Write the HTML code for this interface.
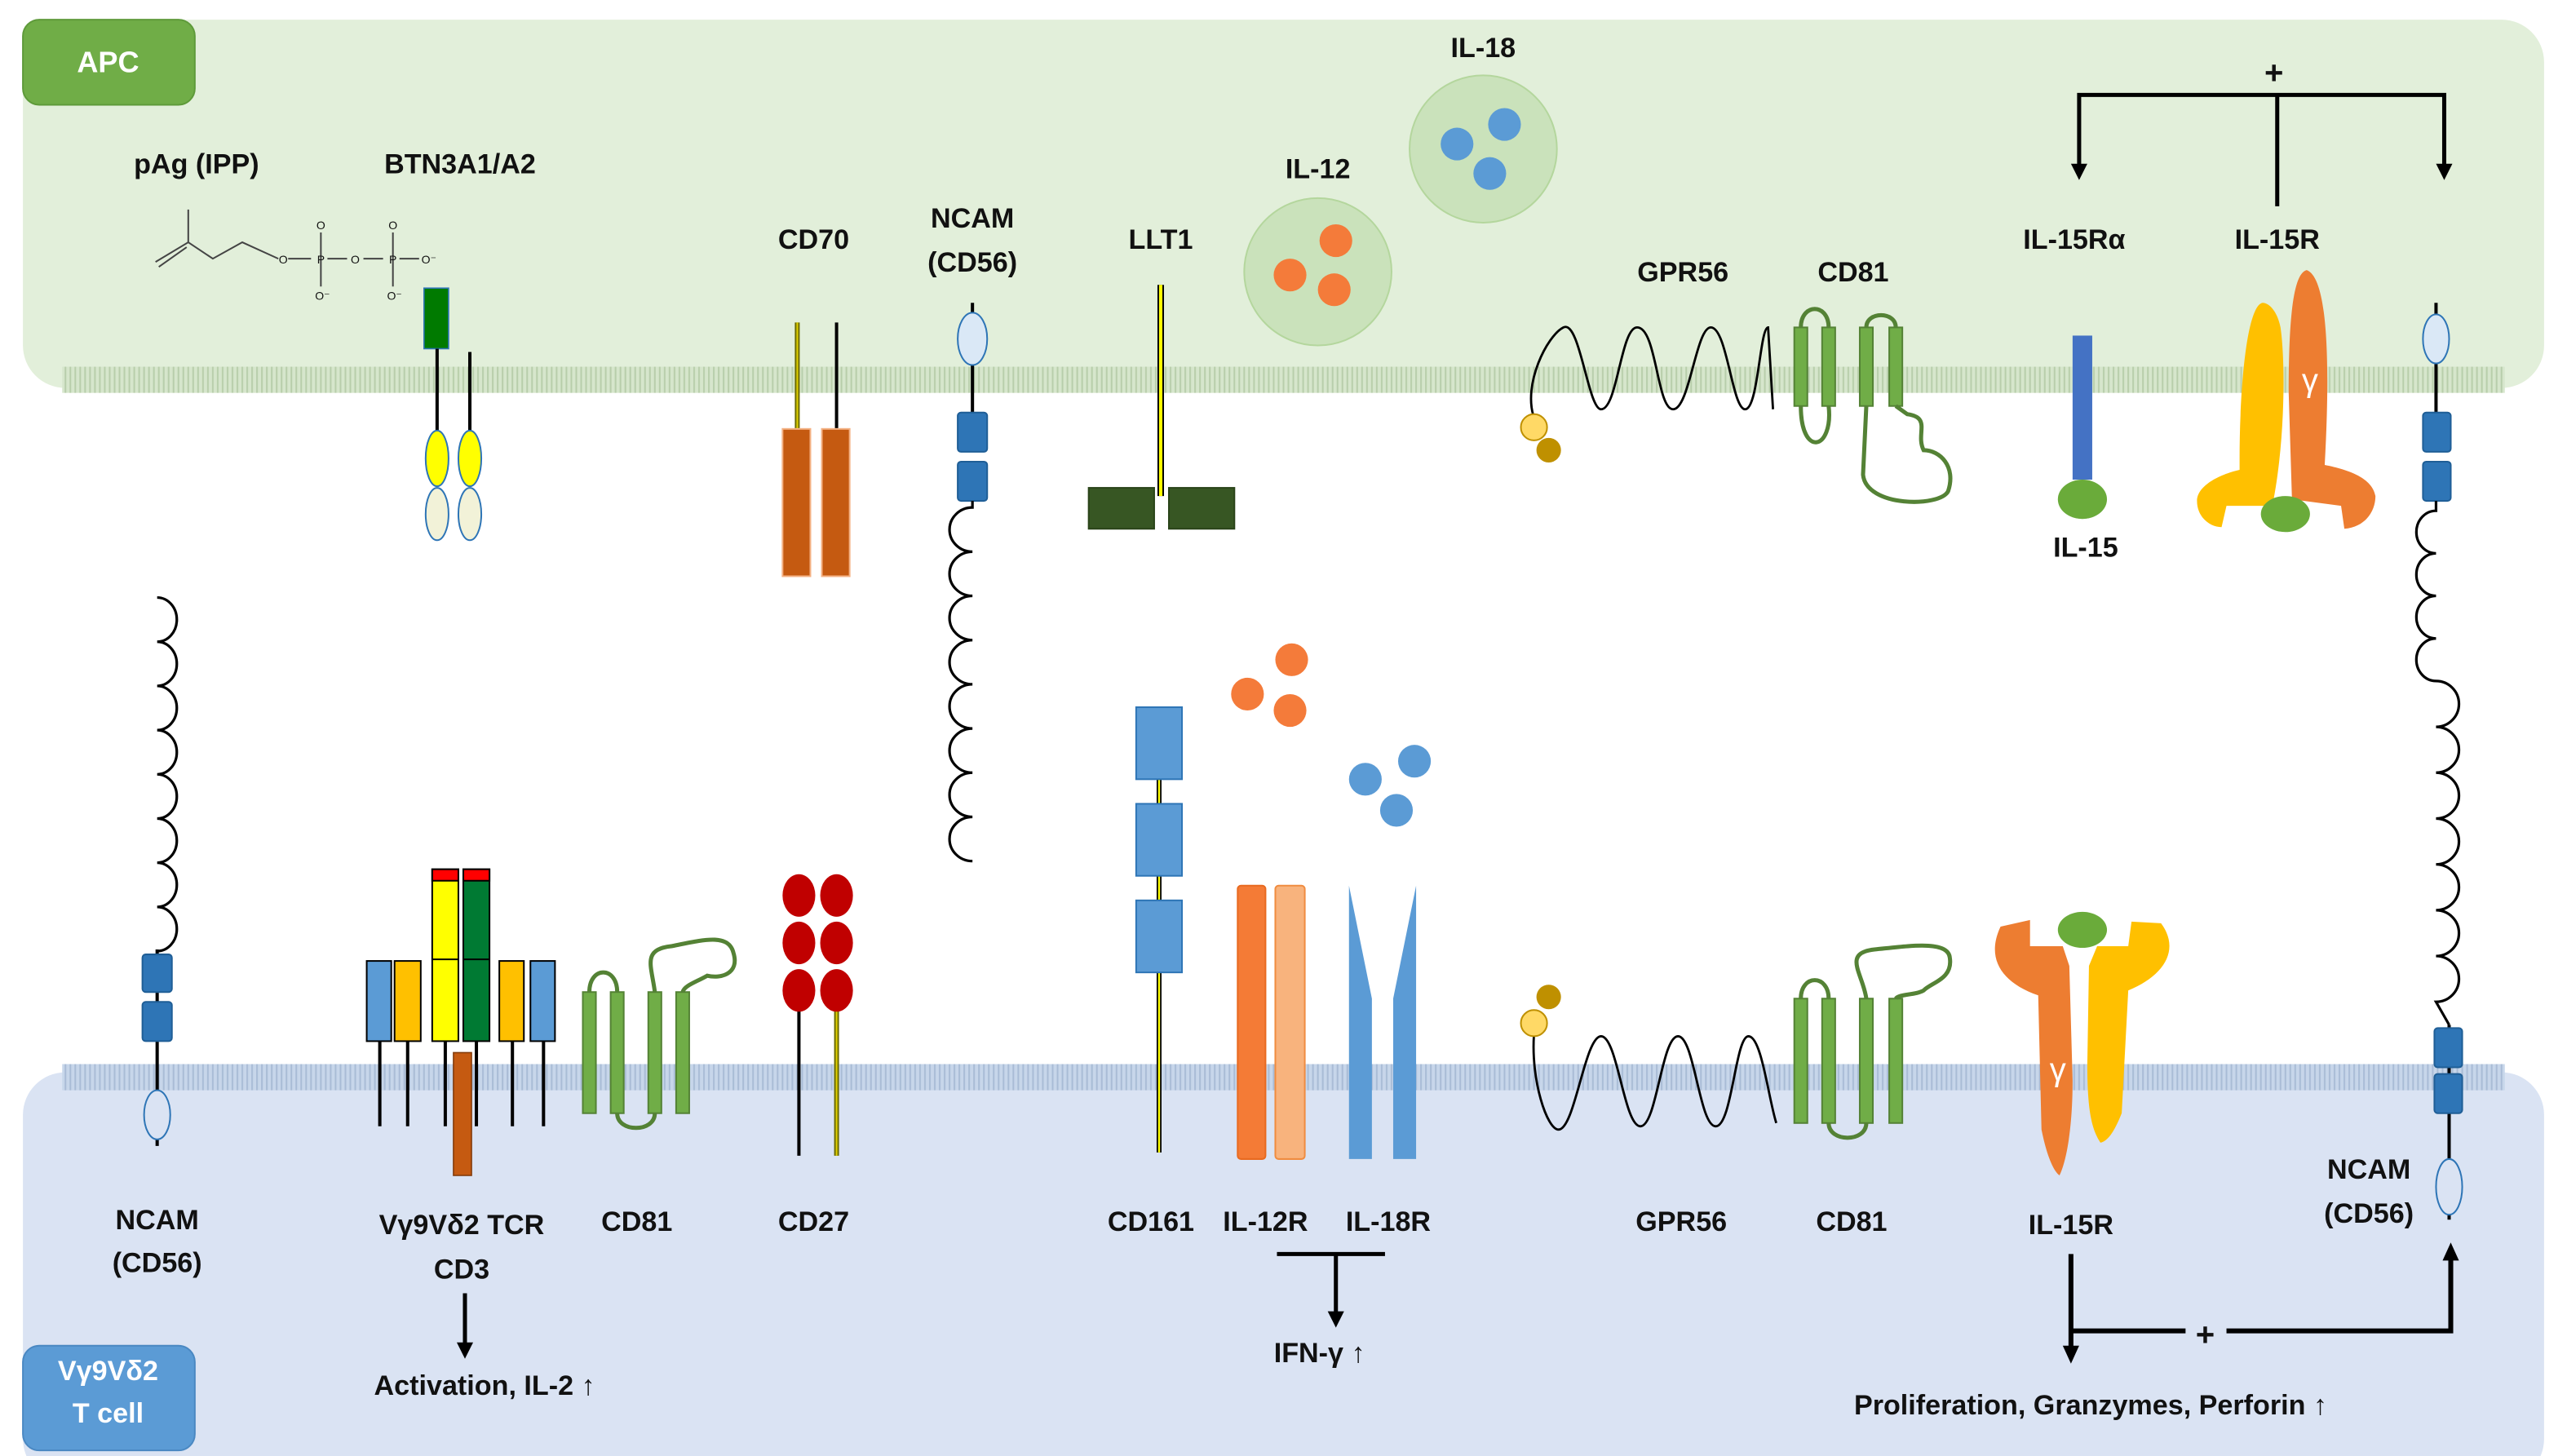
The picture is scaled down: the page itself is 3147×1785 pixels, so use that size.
<!DOCTYPE html>
<html><head><meta charset="utf-8"><style>
html,body{margin:0;padding:0;background:#fff}
svg{display:block}
text{font-family:"Liberation Sans",sans-serif;font-weight:bold;fill:#111}
</style></head><body>
<svg width="3147" height="1785" viewBox="0 0 1568 889.4" preserveAspectRatio="none" xmlns="http://www.w3.org/2000/svg">
<defs>
<pattern id="pg" width="3" height="16" patternUnits="userSpaceOnUse"><rect width="3" height="16" fill="#d6e6cc"/><line x1="1" y1="0" x2="1" y2="16" stroke="#b8ceab" stroke-width="1"/></pattern>
<pattern id="pb" width="3" height="16" patternUnits="userSpaceOnUse"><rect width="3" height="16" fill="#c7d6ea"/><line x1="1" y1="0" x2="1" y2="16" stroke="#a9bcd6" stroke-width="1"/></pattern>
<marker id="ar" markerWidth="8" markerHeight="8" refX="4" refY="6" orient="auto" markerUnits="userSpaceOnUse" viewBox="0 0 8 8"><path d="M0,0 L8,0 L4,8 Z" fill="#000"/></marker>
</defs>
<!-- regions -->
<rect x="14" y="12" width="1540" height="225" rx="26" fill="#e2efda"/>
<rect x="14" y="655" width="1540" height="250" rx="26" fill="#dae3f3"/>
<rect x="38" y="224" width="1492" height="16" fill="url(#pg)"/>
<rect x="38" y="650" width="1492" height="16" fill="url(#pb)"/>
<rect x="14" y="12" width="105" height="52" rx="10" fill="#70ad47" stroke="#5e9a3a"/>
<text x="66" y="44" font-size="18" text-anchor="middle" style="fill:#fff">APC</text>
<rect x="14" y="822" width="105" height="64" rx="10" fill="#5b9bd5" stroke="#4a88c2"/>
<text x="66" y="843" font-size="17" text-anchor="middle" style="fill:#fff">Vγ9Vδ2</text>
<text x="66" y="869" font-size="17" text-anchor="middle" style="fill:#fff">T cell</text>

<!-- labels top -->
<g font-size="17" text-anchor="middle">
<text x="120" y="106">pAg (IPP)</text>
<text x="281" y="106">BTN3A1/A2</text>
<text x="497" y="152">CD70</text>
<text x="594" y="139">NCAM</text>
<text x="594" y="166">(CD56)</text>
<text x="709" y="152">LLT1</text>
<text x="805" y="109">IL-12</text>
<text x="906" y="35">IL-18</text>
<text x="1028" y="172">GPR56</text>
<text x="1132" y="172">CD81</text>
<text x="1267" y="152">IL-15Rα</text>
<text x="1391" y="152">IL-15R</text>
<text x="1389" y="51" font-size="20">+</text>
<text x="1274" y="340">IL-15</text>
<!-- labels bottom -->
<text x="96" y="751">NCAM</text>
<text x="96" y="777">(CD56)</text>
<text x="282" y="754">Vγ9Vδ2 TCR</text>
<text x="282" y="781">CD3</text>
<text x="389" y="752">CD81</text>
<text x="497" y="752">CD27</text>
<text x="703" y="752">CD161</text>
<text x="773" y="752">IL-12R</text>
<text x="848" y="752">IL-18R</text>
<text x="1027" y="752">GPR56</text>
<text x="1131" y="752">CD81</text>
<text x="1265" y="754">IL-15R</text>
<text x="1447" y="720">NCAM</text>
<text x="1447" y="747">(CD56)</text>
<text x="296" y="852">Activation, IL-2 ↑</text>
<text x="806" y="832">IFN-γ ↑</text>
<text x="1277" y="864">Proliferation, Granzymes, Perforin ↑</text>
<text x="1347" y="822" font-size="20">+</text>
</g>

<!-- IPP molecule -->
<g stroke="#444" stroke-width="1" fill="none">
<path d="M95 160 L115 148 L130 158 L148 148 L170 158"/>
<path d="M97 163 L114 151"/>
<line x1="115" y1="148" x2="115" y2="128"/>
<line x1="176" y1="158" x2="190" y2="158"/><line x1="200" y1="158" x2="212" y2="158"/>
<line x1="222" y1="158" x2="234" y2="158"/><line x1="244" y1="158" x2="256" y2="158"/>
<line x1="196" y1="142" x2="196" y2="175"/><line x1="240" y1="142" x2="240" y2="175"/>
</g>
<g font-size="7" font-weight="normal" fill="#444" text-anchor="middle" style="font-weight:normal">
<text x="173" y="161" style="font-weight:normal">O</text><text x="196" y="161" style="font-weight:normal">P</text><text x="217" y="161" style="font-weight:normal">O</text><text x="240" y="161" style="font-weight:normal">P</text><text x="262" y="161" style="font-weight:normal">O⁻</text>
<text x="196" y="140" style="font-weight:normal">O</text><text x="240" y="140" style="font-weight:normal">O</text><text x="197" y="183" style="font-weight:normal">O⁻</text><text x="241" y="183" style="font-weight:normal">O⁻</text>
</g>

<!-- BTN3A1/A2 -->
<rect x="259" y="176" width="15" height="37" fill="#007a00" stroke="#2e75b6" stroke-width="0.8"/>
<line x1="267" y1="213" x2="267" y2="265" stroke="#000" stroke-width="2"/>
<line x1="287" y1="215" x2="287" y2="265" stroke="#000" stroke-width="2"/>
<g stroke="#2e75b6" stroke-width="1">
<ellipse cx="267" cy="280" rx="7" ry="17" fill="#ffff00"/><ellipse cx="287" cy="280" rx="7" ry="17" fill="#ffff00"/>
<ellipse cx="267" cy="314" rx="7" ry="16" fill="#f2f2d8"/><ellipse cx="287" cy="314" rx="7" ry="16" fill="#f2f2d8"/>
</g>

<!-- CD70 -->
<line x1="487" y1="197" x2="487" y2="263" stroke="#6b6b00" stroke-width="3"/>
<line x1="487" y1="197" x2="487" y2="263" stroke="#e0d000" stroke-width="1"/>
<line x1="511" y1="197" x2="511" y2="263" stroke="#000" stroke-width="2"/>
<rect x="478" y="262" width="17" height="90" fill="#c55a11" stroke="#f4b183"/>
<rect x="502" y="262" width="17" height="90" fill="#c55a11" stroke="#f4b183"/>

<!-- NCAM top -->
<line x1="594" y1="185" x2="594" y2="252" stroke="#000" stroke-width="2"/>
<ellipse cx="594" cy="207" rx="9" ry="16" fill="#dae8f6" stroke="#2e75b6"/>
<rect x="585" y="252" width="18" height="24" rx="2" fill="#2e75b6" stroke="#1f5e96"/>
<rect x="585" y="282" width="18" height="24" rx="2" fill="#2e75b6" stroke="#1f5e96"/>
<path d="M594 306 L594 310 a14 13.5 0 1 0 0 27 a14 13.5 0 1 0 0 27 a14 13.5 0 1 0 0 27 a14 13.5 0 1 0 0 27 a14 13.5 0 1 0 0 27 a14 13.5 0 1 0 0 27 a14 13.5 0 1 0 0 27 a14 13.5 0 1 0 0 27" fill="none" stroke="#000" stroke-width="1.6"/>

<!-- LLT1 -->
<line x1="709" y1="174" x2="709" y2="303" stroke="#000" stroke-width="4"/>
<line x1="709" y1="174" x2="709" y2="303" stroke="#ffff00" stroke-width="2"/>
<rect x="665" y="298" width="40" height="25" fill="#375623" stroke="#2a4419"/>
<rect x="714" y="298" width="40" height="25" fill="#375623" stroke="#2a4419"/>

<!-- IL-12 / IL-18 vesicles -->
<circle cx="805" cy="166" r="45" fill="#c5e0b4" stroke="#a9d18e" opacity="0.8"/>
<g fill="#f47b3a"><circle cx="788" cy="168" r="10"/><circle cx="816" cy="147" r="10"/><circle cx="815" cy="177" r="10"/></g>
<circle cx="906" cy="91" r="45" fill="#c5e0b4" stroke="#a9d18e" opacity="0.8"/>
<g fill="#5b9bd5"><circle cx="890" cy="88" r="10"/><circle cx="919" cy="76" r="10"/><circle cx="910" cy="106" r="10"/></g>

<!-- GPR56 top -->
<path d="M937 255 C930 235 945 205 955 200 C965 195 970 250 978 250 C988 250 990 200 1000 200 C1012 200 1012 250 1022 250 C1032 250 1036 200 1045 200 C1055 200 1058 250 1066 250 C1074 250 1075 200 1080 200 L1083 250" fill="none" stroke="#000" stroke-width="1.4"/>
<circle cx="937" cy="261" r="8" fill="#ffd966" stroke="#bf9000"/>
<circle cx="946" cy="275" r="7.5" fill="#bf9000"/>

<!-- CD81 top -->
<g fill="#70ad47" stroke="#548235" stroke-width="1">
<rect x="1096" y="200" width="8" height="48"/><rect x="1113" y="200" width="8" height="48"/>
<rect x="1136" y="200" width="8" height="48"/><rect x="1154" y="200" width="8" height="48"/>
</g>
<path d="M1100 200 C1100 185 1117 185 1117 200 M1100 248 C1100 280 1120 275 1117 248 M1140 200 C1140 190 1158 190 1158 200 M1140 248 L1138 290 C1140 310 1185 310 1190 300 C1195 285 1185 275 1175 275 C1170 265 1180 255 1165 253 L1158 248" fill="none" stroke="#548235" stroke-width="2.5"/>

<!-- IL-15Ra -->
<rect x="1266" y="205" width="12" height="88" fill="#4472c4"/>
<ellipse cx="1272" cy="305" rx="15" ry="12" fill="#6aab3a"/>

<!-- IL-15R top -->
<path d="M1382 185 C1372 187 1368 240 1368 280 L1368 287 C1355 290 1342 297 1342 306 C1342 316 1350 322 1357 322 L1360 309 L1388 309 C1396 270 1396 220 1393 200 C1391 190 1386 185 1382 185 Z" fill="#ffc000"/>
<path d="M1409 165 C1400 167 1398 200 1398 240 L1400 305 L1430 309 L1432 323 C1445 322 1451 312 1451 303 C1449 292 1435 287 1420 284 C1423 230 1423 170 1409 165 Z" fill="#ed7d31"/>
<ellipse cx="1396" cy="314" rx="15" ry="11" fill="#6aab3a"/>
<text x="1411" y="239" font-size="20" style="fill:#fff;font-weight:normal" text-anchor="middle">γ</text>

<!-- top arrows -->
<g stroke="#000" stroke-width="2.5" fill="none">
<path d="M1270 104 L1270 58 L1493 58 L1493 104" />
<line x1="1391" y1="58" x2="1391" y2="126"/>
</g>
<path d="M1265 100 L1275 100 L1270 110 Z M1488 100 L1498 100 L1493 110 Z" fill="#000"/>

<!-- right NCAM -->
<line x1="1488" y1="185" x2="1488" y2="252" stroke="#000" stroke-width="2"/>
<ellipse cx="1488" cy="207" rx="8" ry="15" fill="#dae8f6" stroke="#2e75b6"/>
<rect x="1480" y="252" width="17" height="24" rx="2" fill="#2e75b6" stroke="#1f5e96"/>
<rect x="1480" y="282" width="17" height="24" rx="2" fill="#2e75b6" stroke="#1f5e96"/>
<path d="M1488 306 L1488 312 a12 13 0 1 0 0 26 a12 13 0 1 0 0 26 a12 13 0 1 0 0 26 a12 13 0 1 0 0 26 M1488 416 a14 14 0 1 1 0 28 a14 14 0 1 1 0 28 a14 14 0 1 1 0 28 a14 14 0 1 1 0 28 a14 14 0 1 1 0 28 a14 14 0 1 1 0 28 a14 14 0 1 1 0 28 L1496 626" fill="none" stroke="#000" stroke-width="1.6"/>
<line x1="1496" y1="626" x2="1496" y2="745" stroke="#000" stroke-width="2"/>
<rect x="1487" y="628" width="17" height="24" rx="2" fill="#2e75b6" stroke="#1f5e96"/>
<rect x="1487" y="656" width="17" height="24" rx="2" fill="#2e75b6" stroke="#1f5e96"/>
<ellipse cx="1496" cy="725" rx="8" ry="17" fill="#dae3f3" stroke="#2e75b6"/>

<!-- left NCAM bottom -->
<path d="M96 365 a12 13.5 0 1 1 0 27 a12 13.5 0 1 1 0 27 a12 13.5 0 1 1 0 27 a12 13.5 0 1 1 0 27 a12 13.5 0 1 1 0 27 a12 13.5 0 1 1 0 27 a12 13.5 0 1 1 0 27 a12 13.5 0 1 1 0 27" fill="none" stroke="#000" stroke-width="1.6"/>
<line x1="96" y1="580" x2="96" y2="700" stroke="#000" stroke-width="2"/>
<rect x="87" y="583" width="18" height="23" rx="2" fill="#2e75b6" stroke="#1f5e96"/>
<rect x="87" y="612" width="18" height="24" rx="2" fill="#2e75b6" stroke="#1f5e96"/>
<ellipse cx="96" cy="681" rx="8" ry="15" fill="#dae3f3" stroke="#2e75b6"/>

<!-- TCR/CD3 -->
<g stroke="#000" stroke-width="2">
<line x1="232" y1="636" x2="232" y2="688"/><line x1="249" y1="636" x2="249" y2="688"/>
<line x1="272" y1="636" x2="272" y2="688"/><line x1="291" y1="636" x2="291" y2="688"/>
<line x1="313" y1="636" x2="313" y2="688"/><line x1="332" y1="636" x2="332" y2="688"/>
</g>
<g stroke="#000" stroke-width="1">
<rect x="224" y="587" width="15" height="49" fill="#5b9bd5"/>
<rect x="241" y="587" width="16" height="49" fill="#ffc000"/>
<rect x="264" y="531" width="16" height="105" fill="#ffff00"/>
<rect x="264" y="531" width="16" height="7" fill="#ff0000"/>
<line x1="264" y1="586" x2="280" y2="586"/>
<rect x="283" y="531" width="16" height="105" fill="#007a33"/>
<rect x="283" y="531" width="16" height="7" fill="#ff0000"/>
<line x1="283" y1="586" x2="299" y2="586"/>
<rect x="305" y="587" width="15" height="49" fill="#ffc000"/>
<rect x="324" y="587" width="15" height="49" fill="#5b9bd5"/>
</g>
<rect x="277" y="643" width="11" height="75" fill="#c55a11" stroke="#843c0c" stroke-width="0.8"/>
<line x1="284" y1="790" x2="284" y2="822" stroke="#000" stroke-width="2.5"/>
<path d="M279 820 L289 820 L284 830 Z" fill="#000"/>

<!-- CD81 bottom left -->
<g fill="#70ad47" stroke="#548235"><rect x="356" y="606" width="8" height="74"/><rect x="373" y="606" width="8" height="74"/><rect x="396" y="606" width="8" height="74"/><rect x="413" y="606" width="8" height="74"/></g>
<path d="M360 606 C360 590 377 590 377 606 M360 680 L360 680 M377 680 C377 692 400 692 400 680 M400 606 C398 590 392 580 410 578 C430 574 445 570 448 582 C452 595 440 598 432 596 C425 600 418 602 417 606" fill="none" stroke="#548235" stroke-width="2.5"/>

<!-- CD27 -->
<line x1="488" y1="612" x2="488" y2="706" stroke="#000" stroke-width="2"/>
<line x1="511" y1="612" x2="511" y2="706" stroke="#6b6b00" stroke-width="3"/>
<line x1="511" y1="612" x2="511" y2="706" stroke="#e0d000" stroke-width="1"/>
<g fill="#c00000"><ellipse cx="488" cy="547" rx="10" ry="13"/><ellipse cx="511" cy="547" rx="10" ry="13"/><ellipse cx="488" cy="576" rx="10" ry="13"/><ellipse cx="511" cy="576" rx="10" ry="13"/><ellipse cx="488" cy="605" rx="10" ry="13"/><ellipse cx="511" cy="605" rx="10" ry="13"/></g>

<!-- CD161 -->
<line x1="708" y1="470" x2="708" y2="704" stroke="#000" stroke-width="3"/>
<line x1="708" y1="470" x2="708" y2="704" stroke="#ffff00" stroke-width="1.2"/>
<g fill="#5b9bd5" stroke="#2e75b6"><rect x="694" y="432" width="28" height="44"/><rect x="694" y="491" width="28" height="44"/><rect x="694" y="550" width="28" height="44"/></g>

<!-- free cytokines -->
<g fill="#f47b3a"><circle cx="789" cy="403" r="10"/><circle cx="762" cy="424" r="10"/><circle cx="788" cy="434" r="10"/></g>
<g fill="#5b9bd5"><circle cx="834" cy="476" r="10"/><circle cx="864" cy="465" r="10"/><circle cx="853" cy="495" r="10"/></g>

<!-- IL-12R / IL-18R -->
<rect x="756" y="541" width="17" height="167" rx="2" fill="#f47b36" stroke="#e86a20"/>
<rect x="779" y="541" width="18" height="167" rx="2" fill="#f8b37d" stroke="#f08c40"/>
<path d="M824 541 L838 610 L838 708 L824 708 Z M865 541 L851 610 L851 708 L865 708 Z" fill="#5b9bd5"/>
<line x1="780" y1="766" x2="846" y2="766" stroke="#000" stroke-width="2.5"/>
<line x1="816" y1="766" x2="816" y2="803" stroke="#000" stroke-width="2.5"/>
<path d="M811 801 L821 801 L816 811 Z" fill="#000"/>

<!-- GPR56 bottom -->
<path d="M937 632 C935 660 945 690 952 690 C962 690 968 633 978 633 C988 633 992 688 1002 688 C1012 688 1015 633 1025 633 C1035 633 1038 688 1048 688 C1058 688 1060 633 1068 633 C1076 633 1080 670 1085 686" fill="none" stroke="#000" stroke-width="1.4"/>
<circle cx="937" cy="625" r="8" fill="#ffd966" stroke="#bf9000"/>
<circle cx="946" cy="609" r="7.5" fill="#bf9000"/>

<!-- CD81 bottom right -->
<g fill="#70ad47" stroke="#548235"><rect x="1096" y="610" width="8" height="76"/><rect x="1113" y="610" width="8" height="76"/><rect x="1136" y="610" width="8" height="76"/><rect x="1154" y="610" width="8" height="76"/></g>
<path d="M1100 610 C1100 595 1117 595 1117 610 M1117 686 C1117 698 1140 698 1140 686 M1140 610 C1138 595 1125 582 1145 580 C1165 578 1190 574 1191 585 C1193 598 1180 600 1175 605 C1170 608 1160 607 1158 610" fill="none" stroke="#548235" stroke-width="2.5"/>

<!-- IL-15R bottom -->
<path d="M1222 566 C1213 585 1222 600 1245 608 L1247 690 C1250 705 1254 715 1258 718 C1262 710 1266 690 1266 660 L1264 590 L1260 578 L1240 578 L1240 562 Z" fill="#ed7d31"/>
<path d="M1320 564 C1332 580 1322 596 1300 605 L1296 680 C1292 690 1288 697 1283 698 C1278 690 1275 680 1275 650 L1276 590 L1281 578 L1300 578 L1302 563 Z" fill="#ffc000"/>
<ellipse cx="1272" cy="568" rx="15" ry="11" fill="#6aab3a"/>
<text x="1257" y="660" font-size="20" style="fill:#fff;font-weight:normal" text-anchor="middle">γ</text>

<!-- bottom right arrows -->
<g stroke="#000" stroke-width="3" fill="none">
<line x1="1265" y1="766" x2="1265" y2="825"/>
<line x1="1265" y1="813" x2="1335" y2="813"/>
<path d="M1360 813 L1497 813 L1497 768"/>
</g>
<path d="M1260 822 L1270 822 L1265 833 Z M1492 770 L1502 770 L1497 759 Z" fill="#000"/>
</svg>
</body></html>
